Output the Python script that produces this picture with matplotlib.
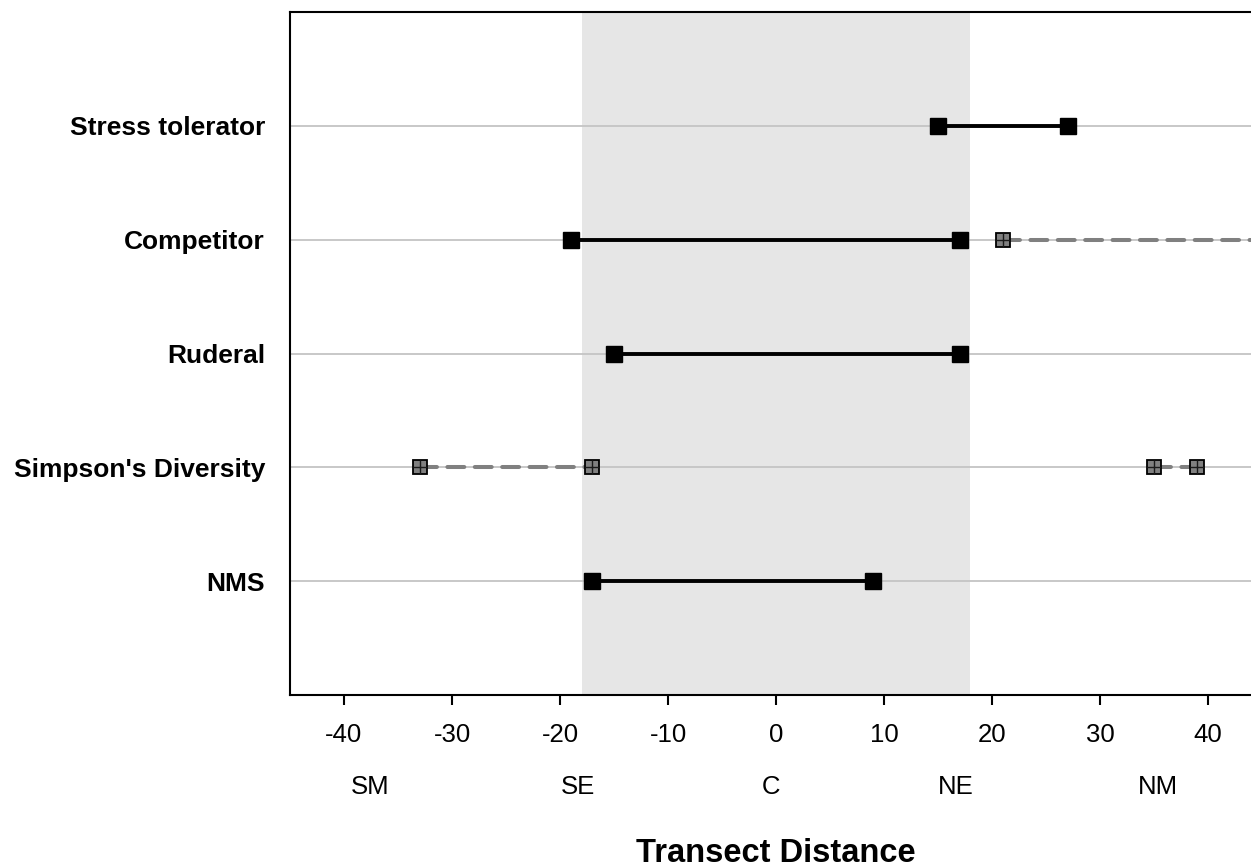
import matplotlib
matplotlib.use('Agg')
import matplotlib.pyplot as plt
import matplotlib.transforms as mtransforms

plt.rcParams['font.family'] = ['Liberation Sans', 'DejaVu Sans']

# rows, bottom to top
rows = ['NMS', "Simpson's Diversity", 'Ruderal', 'Competitor', 'Stress tolerator']
row_pos = [1, 2, 3, 4, 5]

# significant ranges (solid black)
solid_row = ['NMS', 'Ruderal', 'Competitor', 'Stress tolerator']
solid_start = [-17, -15, -19, 15]
solid_end = [9, 17, 17, 27]

# marginal ranges (gray dashed)
dash_row = ["Simpson's Diversity", "Simpson's Diversity", 'Competitor']
dash_start = [-33, 35, 21]
dash_end = [-17, 39, 48]
dash_show_end = [True, True, False]

zone_labels = ['SM', 'SE', 'C', 'NE', 'NM']
zone_pos = [-37.6, -18.3, -0.5, 16.6, 35.4]

core_zone = (-18, 18)

fig = plt.figure(figsize=(12.51, 8.68), dpi=100)
ax = fig.add_axes([290 / 1251, 173 / 868, 972 / 1251, 683 / 868])

ax.axvspan(core_zone[0], core_zone[1], color='#e6e6e6', zorder=0, lw=0)
for y in row_pos:
    ax.axhline(y, color='#c4c4c4', lw=1.3, zorder=1)

ypos = dict(zip(rows, row_pos))

for r, a, b in zip(solid_row, solid_start, solid_end):
    y = ypos[r]
    ax.plot([a, b], [y, y], color='black', lw=2.8, zorder=3, solid_capstyle='butt')
    ax.plot([a, b], [y, y], ls='none', marker='s', ms=11.5, mfc='black', mec='black', zorder=4)

for r, a, b, show in zip(dash_row, dash_start, dash_end, dash_show_end):
    y = ypos[r]
    ax.plot([a, b], [y, y], color='#808080', lw=2.9, ls=(0, (4.2, 2.6)),
            dash_capstyle='round', zorder=3)
    pts = [a, b] if show else [a]
    ax.plot(pts, [y] * len(pts), ls='none', marker='s', ms=10.5, mfc='#808080',
            mec='black', mew=1.3, zorder=4)
    ax.plot(pts, [y] * len(pts), ls='none', marker='+', ms=10.5, mec='#1a1a1a',
            mew=1.0, zorder=5)

ax.set_xlim(-45, 45)
ax.set_ylim(0, 6)
ax.set_xticks(range(-40, 41, 10))
ax.set_xticklabels([str(v) for v in range(-40, 41, 10)])
ax.set_yticks(row_pos)
ax.set_yticklabels(rows, fontweight='bold')
ax.tick_params(axis='x', direction='out', length=7, width=1.5, labelsize=18.5, pad=13)
ax.tick_params(axis='y', length=0, labelsize=19, pad=18)

for s in ['left', 'top', 'bottom']:
    ax.spines[s].set_linewidth(1.5)
    ax.spines[s].set_color('black')
ax.spines['right'].set_visible(False)

trans = mtransforms.blended_transform_factory(ax.transData, ax.transAxes)
for lab, x in zip(zone_labels, zone_pos):
    ax.text(x, -0.135, lab, transform=trans, ha='center', va='center', fontsize=18.5)

ax.text(0, -0.2445, 'Transect Distance', transform=trans, ha='center', va='baseline',
        fontsize=23.5, fontweight='bold')

fig.savefig('out.png', dpi=100)
